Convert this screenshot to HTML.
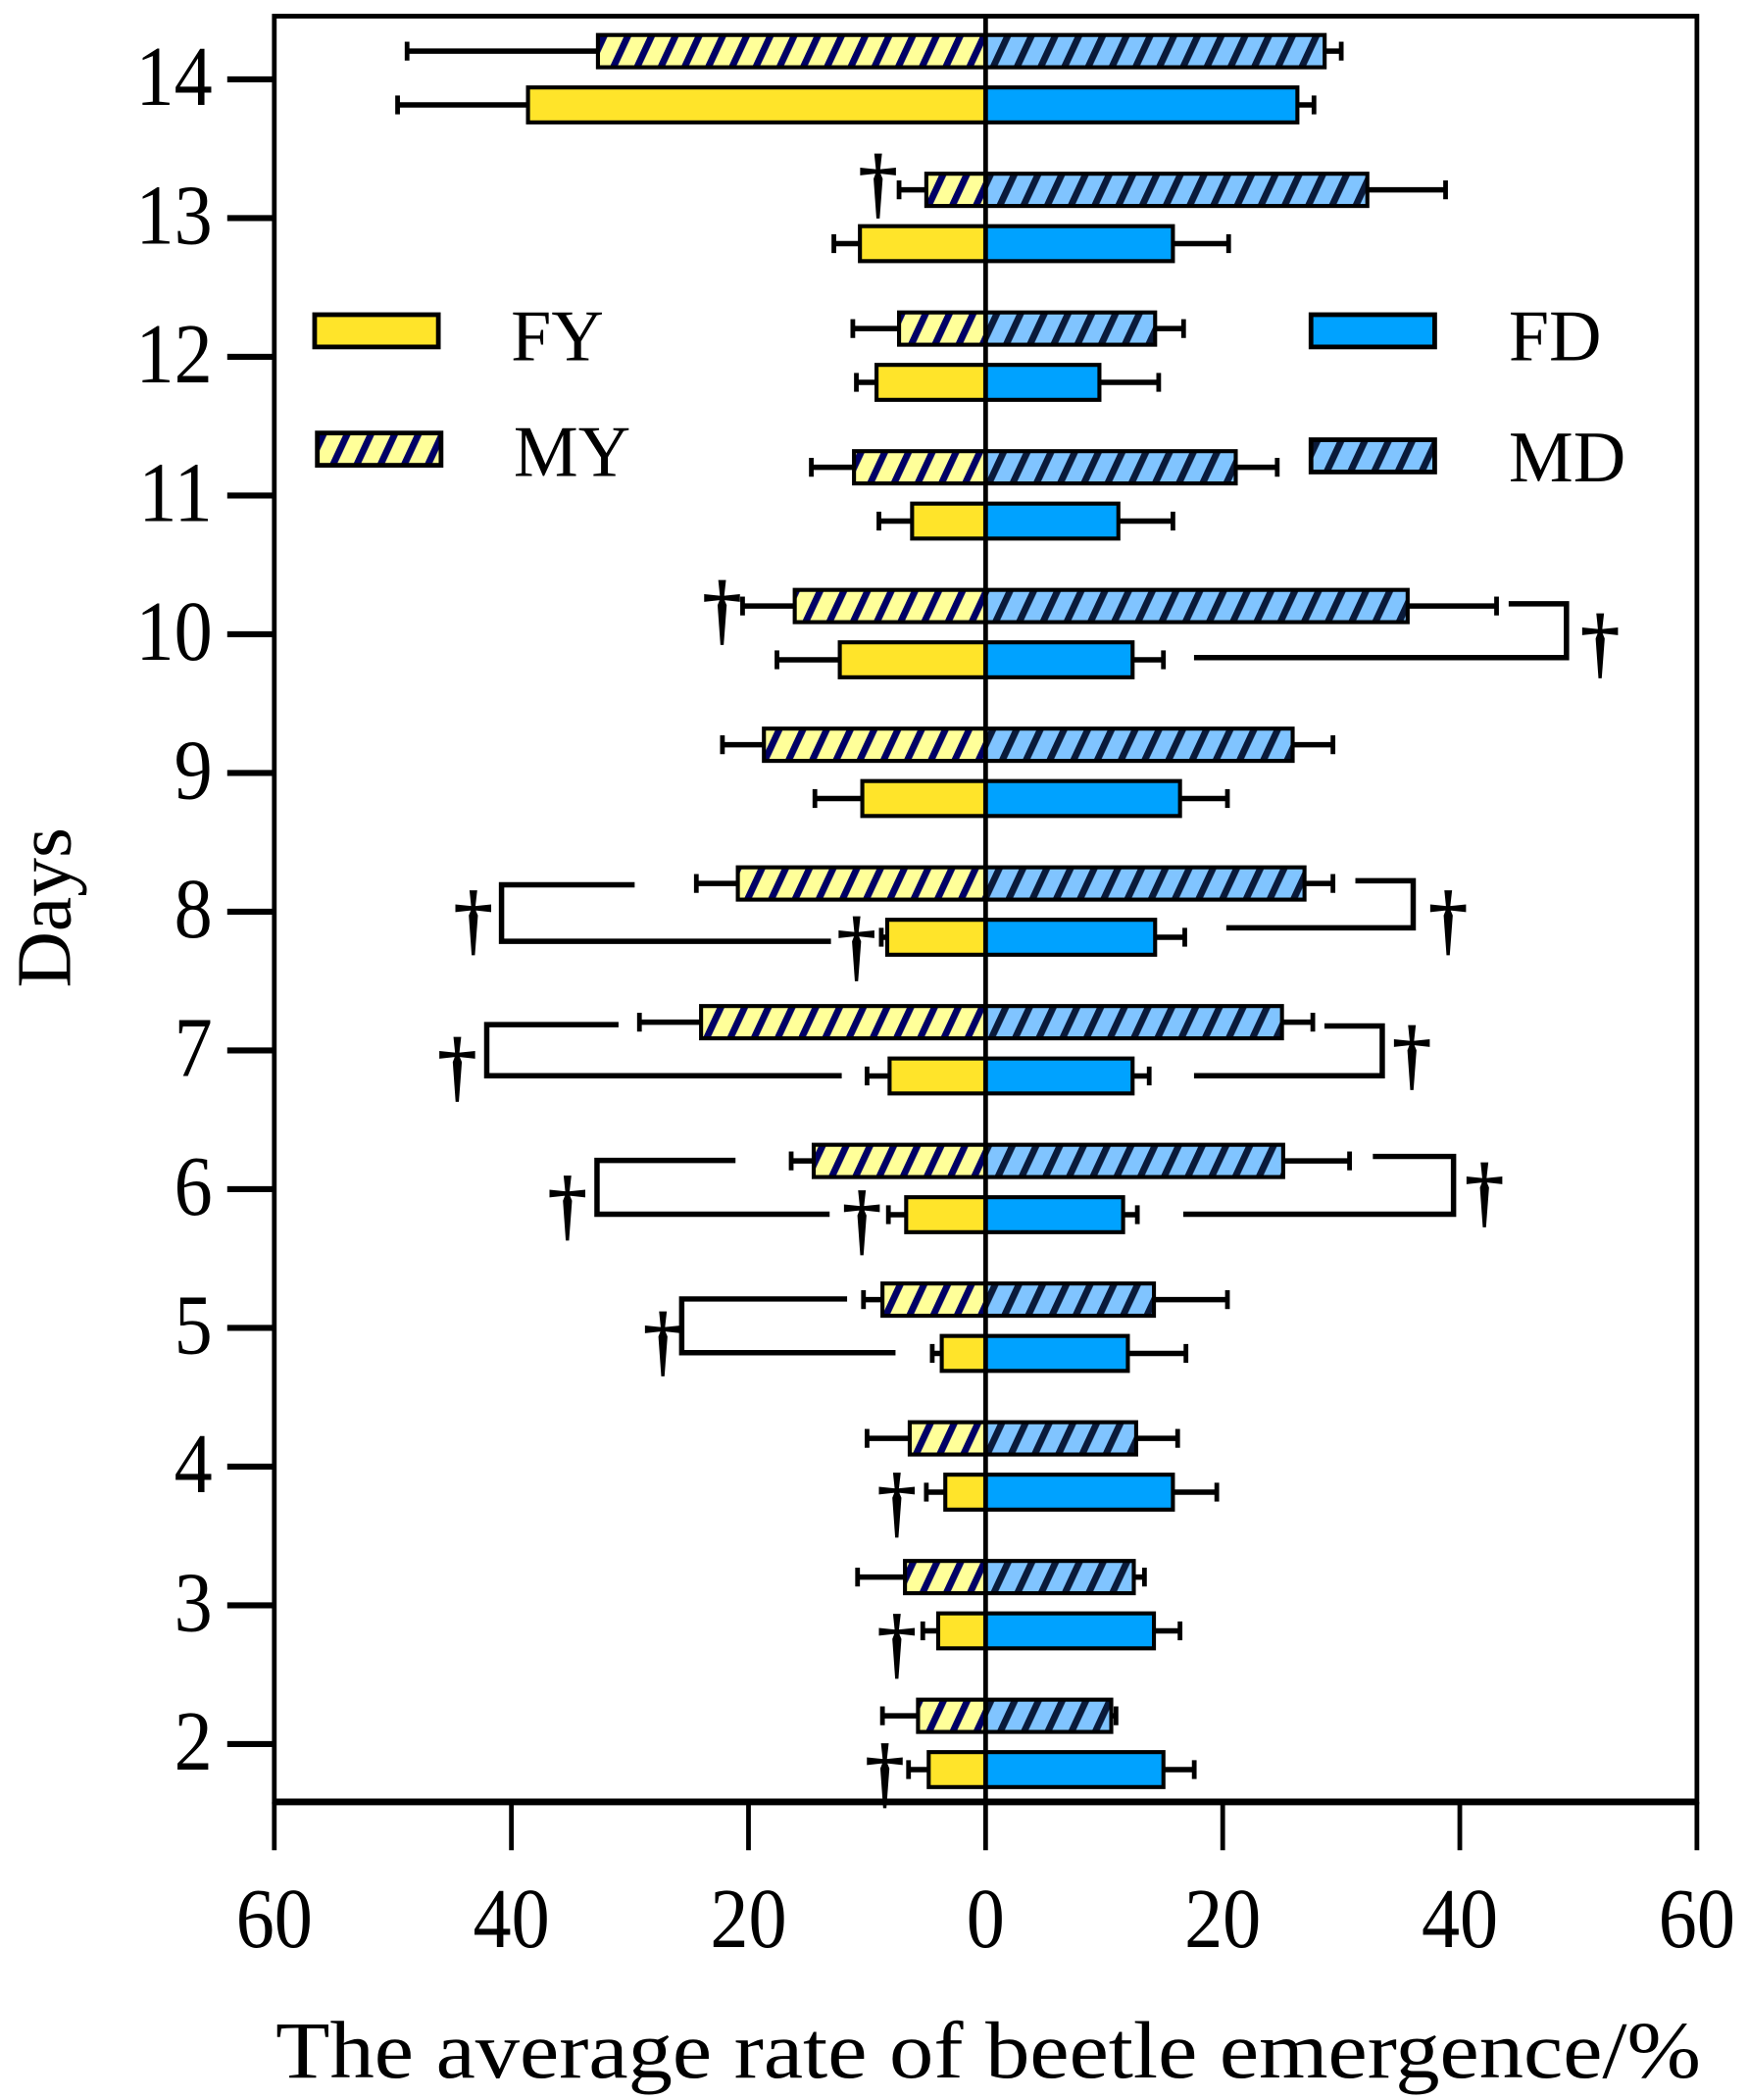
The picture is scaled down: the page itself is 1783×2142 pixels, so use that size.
<!DOCTYPE html>
<html><head><meta charset="utf-8"><style>
html,body{margin:0;padding:0;background:#fff}
svg{display:block}
text{font-family:"Liberation Serif",serif;fill:#000}
</style></head><body>
<svg id="chart" xmlns="http://www.w3.org/2000/svg" width="1783" height="2142" viewBox="0 0 1300 1561.7">
<defs>
<pattern id="hatchY" patternUnits="userSpaceOnUse" width="16" height="16" patternTransform="rotate(25)">
<rect width="16" height="16" fill="#ffff99"/><rect width="5" height="16" fill="#000066"/></pattern>
<pattern id="hatchB" patternUnits="userSpaceOnUse" width="16" height="16" patternTransform="rotate(25)">
<rect width="16" height="16" fill="#80c4ff"/><rect width="5" height="16" fill="#0a1a3a"/></pattern>
</defs>
<g id="marks"></g>
<g id="annot" stroke="#000" stroke-width="4" fill="none"></g>
</svg>
<script>
const days=[14,13,12,11,10,9,8,7,6,5,4,3,2];
const fyVal=[38.6,10.6,9.2,6.2,12.3,10.4,8.3,8.1,6.7,3.7,3.4,4.0,4.8];
const fyErr=[49.6,12.8,10.9,9.0,17.6,14.4,8.8,10.0,8.2,4.5,5.0,5.3,6.5];
const myVal=[32.7,5.0,7.3,11.1,16.1,18.7,20.9,24.0,14.5,8.7,6.4,6.8,5.7];
const myErr=[48.8,7.3,11.2,14.7,20.5,22.2,24.4,29.2,16.4,10.3,10.0,10.8,8.7];
const fdVal=[26.3,15.8,9.6,11.2,12.4,16.4,14.3,12.4,11.6,12.0,15.8,14.2,15.0];
const fdErr=[27.7,20.5,14.6,15.8,15.0,20.4,16.8,13.8,12.8,16.9,19.5,16.4,17.6];
const mdVal=[28.6,32.2,14.3,21.1,35.6,25.9,26.9,25.0,25.1,14.2,12.7,12.5,10.6];
const mdErr=[30.0,38.8,16.7,24.6,43.1,29.3,29.3,27.6,30.7,20.4,16.2,13.4,11.0];
const xTicks=[-60,-40,-20,0,20,40,60];

const NS="http://www.w3.org/2000/svg";
const g=document.getElementById('marks');
const X0=204,X1=1262,Y0=12,Y1=1340;
const xs=v=>733+v*(X1-X0)/120;
const ys=d=>59+(14-d)*(1297-59)/12;
function mk(tag,attrs,parent){const e=document.createElementNS(NS,tag);for(const k in attrs)e.setAttribute(k,attrs[k]);(parent||g).appendChild(e);return e;}

const BH=24;
days.forEach((d,i)=>{
  const yh=ys(d)-21, yf=ys(d)+19;
  [[-myErr[i],-myVal[i],yh],[mdVal[i],mdErr[i],yh],[-fyErr[i],-fyVal[i],yf],[fdVal[i],fdErr[i],yf]].forEach(([a,b,y],k)=>{
    const l=mk('line',{x1:xs(a),x2:xs(b),y1:y,y2:y,stroke:'#000','stroke-width':4});
    
    
    const endX=k%2===0?xs(a):xs(b);
    const c=mk('line',{x1:endX,x2:endX,y1:y-7,y2:y+7,stroke:'#000','stroke-width':3.5});
    
    
  });
  const r1=mk('rect',{x:xs(-myVal[i]),y:yh-BH/2,width:xs(0)-xs(-myVal[i]),height:BH,fill:'url(#hatchY)',stroke:'#000','stroke-width':3});
  
  
  const r2=mk('rect',{x:xs(0),y:yh-BH/2,width:xs(mdVal[i])-xs(0),height:BH,fill:'url(#hatchB)',stroke:'#000','stroke-width':3});
  
  
  const r3=mk('rect',{x:xs(-fyVal[i]),y:yf-BH/2-1,width:xs(0)-xs(-fyVal[i]),height:BH+2,fill:'#ffe42a',stroke:'#000','stroke-width':3});
  
  
  const r4=mk('rect',{x:xs(0),y:yf-BH/2-1,width:xs(fdVal[i])-xs(0),height:BH+2,fill:'#00a2ff',stroke:'#000','stroke-width':3});
  
  
  const t=mk('line',{x1:169,x2:X0,y1:ys(d),y2:ys(d),stroke:'#000','stroke-width':4.5});
  
  
  const tl=mk('text',{x:0,y:0,'text-anchor':'end','font-size':60,transform:'translate(158,'+(ys(d)+19)+') scale(0.95,1.05)'});
  tl.textContent=d;
  
  
});
const z=mk('line',{x1:xs(0),x2:xs(0),y1:Y0,y2:Y1,stroke:'#000','stroke-width':3.5});


const fr=mk('rect',{x:X0,y:Y0,width:X1-X0,height:Y1-Y0,fill:'none',stroke:'#000','stroke-width':3.5});


const bl=mk('line',{x1:X0,x2:X1,y1:Y1,y2:Y1,stroke:'#000','stroke-width':5});


xTicks.forEach(v=>{
  const t=mk('line',{x1:xs(v),x2:xs(v),y1:Y1,y2:1376,stroke:'#000','stroke-width':3.5});
  
  
  const tl=mk('text',{x:0,y:0,'text-anchor':'middle','font-size':60,transform:'translate('+xs(v)+',1448) scale(0.95,1.05)'});
  tl.textContent=Math.abs(v);
  
  
});
</script>
<script>
(function(){
const NS="http://www.w3.org/2000/svg";
const a=document.getElementById('annot');
function el(tag,attrs,parent){const e=document.createElementNS(NS,tag);for(const k in attrs)e.setAttribute(k,attrs[k]);(parent||a).appendChild(e);return e;}
const brackets=[
 "1122,449 1165,449 1165,489 888,489",
 "472,658 373,658 373,700 618,700",
 "1008,655 1051,655 1051,690 912,690",
 "460,762 362,762 362,800 626,800",
 "985,763 1028,763 1028,800 888,800",
 "547,863 444,863 444,903 617,903",
 "1021,860 1081,860 1081,903 880,903",
 "630,966 507,966 507,1006 666,1006"];
brackets.forEach(p=>{
  const e=el('polyline',{points:p});
  
  
});
const daggers=[[1190,497],[537,472],[653,155],[352,703],[637,722],[1077,703],[340,812],[1050,803],[422,915],[641,926],[1104,905],[493,1016],[667,1136],[667,1241],[658,1337]];
daggers.forEach(([x,y])=>{
  const t=el('text',{x:x,y:y,'text-anchor':'middle','font-size':58,stroke:'#000','stroke-width':1.2,fill:'#000'});
  t.textContent='†';
  
  
});
const leg=[['FY','#ffe42a',234,234,380,268],['MY','url(#hatchY)',236,322,382,354],['FD','#00a2ff',975,234,1122,268],['MD','url(#hatchB)',975,327,1122,358]];
leg.forEach(([n,f,bx,by,tx,ty])=>{
  const gg=el('g',{});
  
  
  el('rect',{x:bx,y:by,width:92,height:24,fill:f,stroke:'#000','stroke-width':3.5},gg);
  const t=el('text',{x:tx,y:ty,'font-size':54,stroke:'none',fill:'#000'},gg);
  t.textContent=n;
});
const xt=el('text',{x:735,y:1545,'text-anchor':'middle','font-size':60,stroke:'none',fill:'#000',textLength:1060,lengthAdjust:'spacingAndGlyphs'});
xt.textContent='The average rate of beetle emergence/%';


const yt=el('text',{x:0,y:0,'text-anchor':'middle','font-size':58,stroke:'none',fill:'#000',transform:'translate(52,675) rotate(-90)'});
yt.textContent='Days';


})();
</script>
</body></html>
